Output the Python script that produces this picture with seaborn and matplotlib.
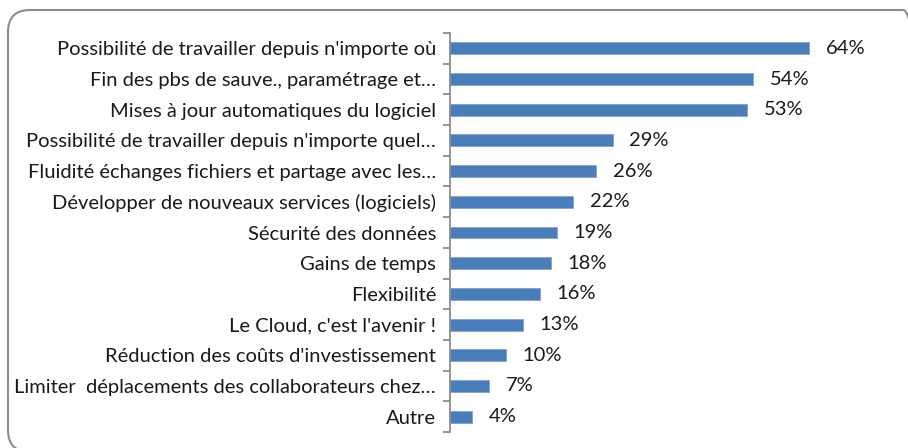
import matplotlib
matplotlib.use("Agg")
import matplotlib.pyplot as plt
from matplotlib.patches import FancyBboxPatch
import seaborn as sns
import pandas as pd

categories = [
    "Possibilité de travailler depuis n'importe où",
    "Fin des pbs de sauve., paramétrage et…",
    "Mises à jour automatiques du logiciel",
    "Possibilité de travailler depuis n'importe quel…",
    "Fluidité échanges fichiers et partage avec les…",
    "Développer de nouveaux services (logiciels)",
    "Sécurité des données",
    "Gains de temps",
    "Flexibilité",
    "Le Cloud, c'est l'avenir !",
    "Réduction des coûts d'investissement",
    "Limiter  déplacements des collaborateurs chez…",
    "Autre",
]
values = [64, 54, 53, 29, 26, 22, 19, 18, 16, 13, 10, 7, 4]
value_labels = [f"{v}%" for v in values]

df = pd.DataFrame({"cat": categories, "val": values})

sns.set_theme(style="white")
plt.rcParams["font.family"] = ["Lato", "DejaVu Sans"]

W, H = 908, 448
fig = plt.figure(figsize=(W / 100, H / 100), dpi=100)

# rounded frame (pixel coordinates, origin bottom-left)
frame = FancyBboxPatch((8, H - 452), 925 - 8, 452 - 10,
                       boxstyle="round,pad=0,rounding_size=22",
                       transform=None, facecolor="none",
                       edgecolor="#8c8c8c", linewidth=1.5, zorder=0)
fig.patches.append(frame)

left, right = 450, 899
top, bottom = 33, 432
ax = fig.add_axes([left / W, 1 - bottom / H, (right - left) / W, (bottom - top) / H])
ax.patch.set_alpha(0)

sns.barplot(data=df, x="val", y="cat", orient="h", color="#4a7ebb",
            width=0.39, ax=ax, saturation=1, edgecolor="#7fa3d1", linewidth=0.6)

ax.set_xlim(0, (right - left) / 5.61)
ax.set_ylim(len(categories) - 0.5, -0.5)
ax.set_xlabel("")
ax.set_ylabel("")
ax.set_xticks([])

for sp in ["top", "right", "bottom"]:
    ax.spines[sp].set_visible(False)
ax.spines["left"].set_color("#8c8c8c")
ax.spines["left"].set_linewidth(1.3)

ax.tick_params(axis="y", which="major", length=0, pad=10, labelsize=14.5, labelcolor="#1a1a1a")
ax.set_yticks(range(len(categories)))
ax.set_yticklabels(categories)
ax.set_yticks([i - 0.5 for i in range(len(categories) + 1)], minor=True)
ax.tick_params(axis="y", which="minor", length=5, width=1.3, color="#8c8c8c", direction="out", left=True)

for i, (v, lab) in enumerate(zip(values, value_labels)):
    ax.annotate(lab, xy=(v, i), xytext=(12, 0), textcoords="offset points",
                va="center", ha="left", fontsize=14.5, color="#1a1a1a")

fig.savefig("out.png", dpi=100)
